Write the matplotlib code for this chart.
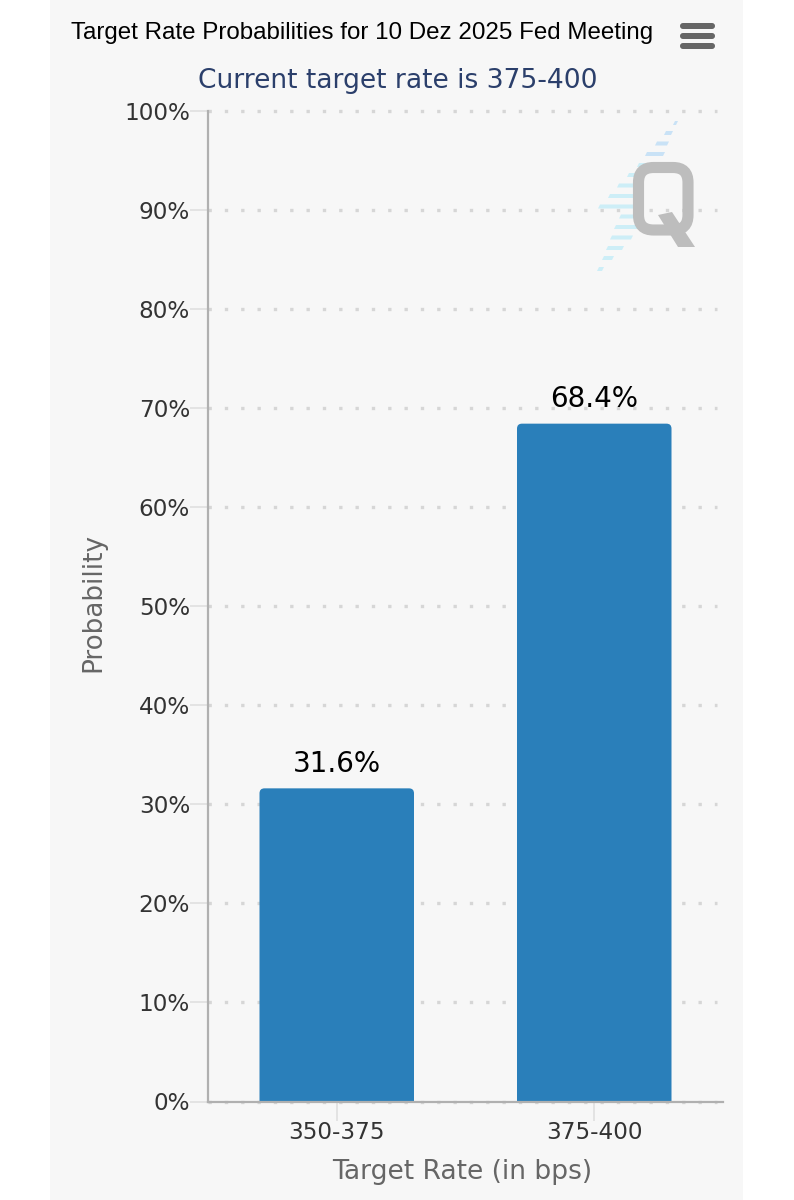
import matplotlib
matplotlib.use("Agg")
import matplotlib.pyplot as plt
from matplotlib.patches import FancyBboxPatch, Polygon

categories = ["350-375", "375-400"]
probabilities = [31.6, 68.4]
value_labels = ["31.6%", "68.4%"]
y_ticks = [0, 10, 20, 30, 40, 50, 60, 70, 80, 90, 100]
y_tick_labels = [f"{v}%" for v in y_ticks]
title_text = "Target Rate Probabilities for 10 Dez 2025 Fed Meeting"
subtitle_text = "Current target rate is 375-400"

W, H = 794, 1200
fig = plt.figure(figsize=(W / 100, H / 100), dpi=100, facecolor="white")

# page-level overlay in pixel coordinates
bg = fig.add_axes([0, 0, 1, 1], zorder=0)
bg.set_xlim(0, W); bg.set_ylim(H, 0); bg.axis("off")
bg.add_patch(FancyBboxPatch((50, -20), 693, 1240, boxstyle="round,pad=0,rounding_size=6",
                            fc="#f7f7f7", ec="none"))

L, R, T, B = 208, 723, 110.5, 1101.5
ax = fig.add_axes([L / W, 1 - B / H, (R - L) / W, (B - T) / H], zorder=1)
ax.patch.set_alpha(0)
ax.set_xlim(-0.5, 1.5)
ax.set_ylim(0, 100)

for s in ("top", "right"):
    ax.spines[s].set_visible(False)
for s in ("left", "bottom"):
    ax.spines[s].set_color("#b0b0b0")
    ax.spines[s].set_linewidth(1.6)

ax.set_yticks(y_ticks)
ax.set_yticklabels(y_tick_labels, fontsize=16.7, color="#333333", family="DejaVu Sans")
ax.set_xticks(range(len(categories)))
ax.set_xticklabels(categories, fontsize=16.7, color="#333333", family="DejaVu Sans")
ax.tick_params(axis="y", length=13, width=1.2, color="#e0e0e0", pad=0)
ax.tick_params(axis="x", length=13.5, width=1.2, color="#e0e0e0", pad=0.5)

ax.set_axisbelow(True)
for v in y_ticks:
    ax.plot([-0.5, 1.477], [v, v], color="#d6d6d6", lw=2.4,
            linestyle=(0, (1, 3.9)), dash_capstyle="butt", zorder=0.5, clip_on=False)

bar_w = 0.6
px_x = (R - L) / 2
px_y = (B - T) / 100
r = 5
for i, (v, lab) in enumerate(zip(probabilities, value_labels)):
    ax.add_patch(FancyBboxPatch((i - bar_w / 2, -3), bar_w, v + 3,
                                boxstyle=f"round,pad=0,rounding_size={r / px_x}",
                                mutation_aspect=(r / px_y) / (r / px_x),
                                fc="#2a7fba", ec="none", zorder=2))
    ax.annotate(lab, (i, v), xytext=(0, 7.5), textcoords="offset points",
                ha="center", va="bottom", fontsize=20, color="black", family="DejaVu Sans")

ax.set_ylabel("Probability", fontsize=18.9, color="#666666", family="DejaVu Sans", va="center")
ax.yaxis.set_label_coords((93.5 - L) / (R - L), (B - 602.5) / (B - T))
ax.set_xlabel("Target Rate (in bps)", fontsize=19.1, color="#666666", family="DejaVu Sans", va="center")
ax.xaxis.set_label_coords((462.5 - L) / (R - L), (B - 1172) / (B - T))

# overlay: title, menu, watermark
top = fig.add_axes([0, 0, 1, 1], zorder=2)
top.set_xlim(0, W); top.set_ylim(H, 0); top.axis("off"); top.patch.set_alpha(0)
top.text(362, 33.5, title_text, ha="center", va="center", fontsize=17.4,
         family="Liberation Sans", color="black")
top.text(397.5, 81, subtitle_text, ha="center", va="center", fontsize=19.1,
         family="DejaVu Sans", color="#2b3f6b")

for y in (23, 33, 43):
    top.add_patch(FancyBboxPatch((680, y), 35, 6, boxstyle="round,pad=0,rounding_size=3",
                                 fc="#666666", ec="none"))

streak_rows = [(123, 673, 676), (133, 664, 671), (143.5, 655, 667), (154, 645, 663),
               (165, 637, 650), (175, 627, 640), (185.5, 617, 635), (196, 608, 633),
               (206.5, 598, 633), (216.5, 619, 635), (227, 614, 637), (237.5, 610, 631),
               (248, 606, 622), (258, 602, 612), (269, 597, 602)]
for i, (y, x0, x1) in enumerate(streak_rows):
    c = "#c9e2f6" if i < 4 else "#cdeef7"
    top.add_patch(Polygon([(x0, y + 2), (x0 + 2, y - 2), (x1 + 2, y - 2), (x1, y + 2)],
                          fc=c, ec="none", zorder=1))

# Q watermark: rounded ring plus tail
top.add_patch(FancyBboxPatch((638.5, 167.5), 49.5, 62.5, boxstyle="round,pad=0,rounding_size=15",
                             fc="none", ec="#bdbdbd", lw=8, zorder=2))
top.add_patch(Polygon([(658, 215), (672, 212), (695, 247), (678, 247)],
                      fc="#bdbdbd", ec="none", zorder=2))

fig.savefig("out.png", dpi=100, facecolor="white")
